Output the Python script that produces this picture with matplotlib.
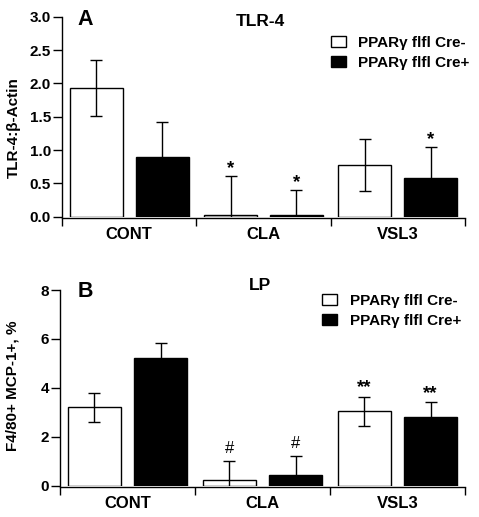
import matplotlib
matplotlib.use('Agg')
import matplotlib.pyplot as plt
from matplotlib.patches import Patch
import numpy as np

plt.rcParams['font.family'] = ['Liberation Sans', 'DejaVu Sans']
plt.rcParams['font.weight'] = 'bold'

categories = ['CONT', 'CLA', 'VSL3']
series = ['PPARγ flfl Cre-', 'PPARγ flfl Cre+']

tlr4_neg = [1.93, 0.02, 0.78]
tlr4_neg_err = [0.42, 0.595, 0.39]
tlr4_pos = [0.90, 0.02, 0.575]
tlr4_pos_err = [0.52, 0.38, 0.47]
tlr4_marks_neg = ['', '*', '']
tlr4_marks_pos = ['', '*', '*']

lp_neg = [3.20, 0.22, 3.04]
lp_neg_err = [0.59, 0.77, 0.60]
lp_pos = [5.22, 0.45, 2.79]
lp_pos_err = [0.61, 0.76, 0.62]
lp_marks_neg = ['', '#', '**']
lp_marks_pos = ['', '#', '**']

W, H = 479, 517
fig = plt.figure(figsize=(W / 100, H / 100), dpi=100)


def px_rect(x0, x1, ytop, ybot):
    return [x0 / W, 1 - ybot / H, (x1 - x0) / W, (ybot - ytop) / H]


mark_off = {'*': 2.0, '**': 3.0, '#': 6.0}
mark_size = {'*': 13.5, '**': 13.5, '#': 12}


def panel(rect, neg, neg_err, pos, pos_err, mneg, mpos, ymax, yticks, yfmt,
          ylabel, ylabel_xy, letter, letter_xy, title, title_xy, leg_anchor):
    ax = fig.add_axes(rect)
    x = np.arange(len(categories))
    w = 0.395
    xn = x + 0.255
    xp = x + 0.745
    ax.bar(xn, neg, w, color='white', edgecolor='black', linewidth=1.0, zorder=2, label=series[0])
    ax.bar(xp, pos, w, color='black', edgecolor='black', linewidth=1.0, zorder=2, label=series[1])
    ax.errorbar(xn, neg, yerr=neg_err, fmt='none', ecolor='black', elinewidth=1.0,
                capsize=4, capthick=1.0, zorder=3)
    ax.errorbar(xp, pos, yerr=pos_err, fmt='none', ecolor='black', elinewidth=1.0,
                capsize=4, capthick=1.0, zorder=3)
    for xs, vals, errs, marks in ((xn, neg, neg_err, mneg), (xp, pos, pos_err, mpos)):
        for xi, v, e, m in zip(xs, vals, errs, marks):
            if m:
                ax.annotate(m, xy=(xi, v + e), xytext=(0, mark_off[m]),
                            textcoords='offset points', ha='center', va='baseline',
                            fontsize=mark_size[m],
                            fontweight='bold' if '*' in m else 'normal',
                            annotation_clip=False)
    ax.set_xlim(0, 3)
    ax.set_ylim(0, ymax)
    ax.spines['top'].set_visible(False)
    ax.spines['right'].set_visible(False)
    ax.spines['left'].set_bounds(0, ymax)
    ax.spines['bottom'].set_position(('outward', 1))
    ax.spines['left'].set_linewidth(1.0)
    ax.spines['bottom'].set_linewidth(1.0)
    ax.set_xticks([0, 1, 2, 3])
    ax.set_xticklabels([])
    ax.set_xticks(x + 0.5, minor=True)
    ax.set_xticklabels(categories, minor=True, fontsize=12, fontweight='bold')
    ax.tick_params(axis='x', which='major', direction='out', length=6, width=1.0)
    ax.tick_params(axis='x', which='minor', length=0, pad=6.5)
    ax.set_yticks(yticks)
    ax.set_yticklabels([yfmt.format(t) for t in yticks], fontsize=11, fontweight='bold')
    ax.tick_params(axis='y', direction='out', length=6.5, width=1.0, pad=1.5)
    fig.text(ylabel_xy[0] / W, 1 - ylabel_xy[1] / H, ylabel, rotation=90,
             ha='center', va='center', fontsize=11, fontweight='bold')
    fig.text(letter_xy[0] / W, 1 - letter_xy[1] / H, letter, ha='left', va='baseline',
             fontsize=15.5, fontweight='bold')
    fig.text(title_xy[0] / W, 1 - title_xy[1] / H, title, ha='center', va='baseline',
             fontsize=12.5, fontweight='bold')
    handles = [Patch(facecolor='white', edgecolor='black', linewidth=1.0),
               Patch(facecolor='black', edgecolor='black', linewidth=1.0)]
    fig.legend(handles, series, loc='upper left',
               bbox_to_anchor=(leg_anchor[0] / W, 1 - leg_anchor[1] / H),
               frameon=False, borderpad=0, borderaxespad=0, handlelength=0.95,
               handleheight=0.7, handletextpad=0.85, labelspacing=0.4,
               prop={'size': 11, 'weight': 'bold'})
    return ax


panel(px_rect(62, 465, 16.7, 216.7), tlr4_neg, tlr4_neg_err, tlr4_pos, tlr4_pos_err,
      tlr4_marks_neg, tlr4_marks_pos, 3.0, [0, 0.5, 1.0, 1.5, 2.0, 2.5, 3.0], '{:.1f}',
      'TLR-4:β-Actin', (14, 128), 'A', (77, 25), 'TLR-4', (260, 26), (331, 36))

panel(px_rect(60, 465, 290, 485.7), lp_neg, lp_neg_err, lp_pos, lp_pos_err,
      lp_marks_neg, lp_marks_pos, 8, [0, 2, 4, 6, 8], '{:.0f}',
      'F4/80+ MCP-1+, %', (13, 386), 'B', (78, 296.7), 'LP', (260, 290), (322, 294))

fig.savefig('out.png', dpi=100)
